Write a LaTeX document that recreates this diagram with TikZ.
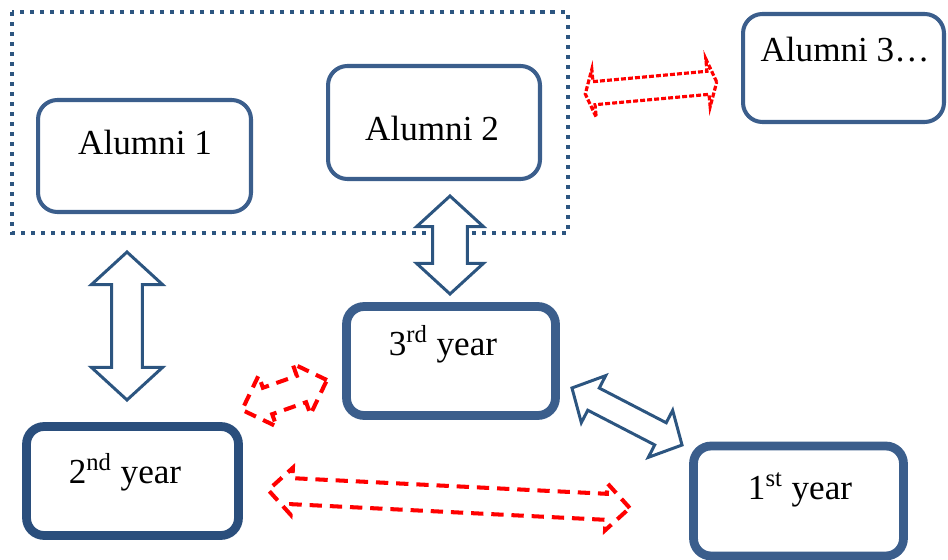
\documentclass[tikz,border=0pt]{standalone}
\usepackage{fontspec}
\setmainfont{Liberation Serif}
\usetikzlibrary{shapes.arrows}

\definecolor{boxblue}{HTML}{3B5E8C}
\definecolor{darkblue}{HTML}{2A4E7C}
\definecolor{arrowblue}{HTML}{2C5580}

\tikzset{
  alumbox/.style={draw=boxblue, line width=2.3pt, rounded corners=11pt},
  yearbox/.style={draw=boxblue, line width=5pt, rounded corners=10pt},
  txt/.style={font=\fontsize{20}{24}\selectfont, inner sep=0pt},
  bluearrow/.style={double arrow, draw=arrowblue, line width=1.7pt, fill=white,
    inner xsep=0pt, double arrow tip angle=95},
  redarrow/.style={double arrow, draw=red, line width=2.3pt, dash pattern=on 7pt off 4.5pt,
    inner xsep=0pt, double arrow tip angle=90}
}

\begin{document}
\begin{tikzpicture}[x=0.02cm,y=-0.02cm]
  \useasboundingbox (0,0) rectangle (948,560);

  % alumni group
  \draw[arrowblue, line width=2.3pt, dash pattern=on 2.3pt off 3.4pt] (12,12) rectangle (568,233);

  \begin{scope}[every node/.style={alumbox}]
    \node[minimum width=4.26cm, minimum height=2.24cm] (alum1) at (144.5,156) {};
    \node[minimum width=4.24cm, minimum height=2.26cm] (alum2) at (434,122.5) {};
    \node[minimum width=4.02cm, minimum height=2.16cm] (alum3) at (843.5,68) {};
  \end{scope}

  \node[yearbox, minimum width=4.18cm, minimum height=2.18cm] (third) at (451,361) {};
  \node[yearbox, draw=darkblue, minimum width=4.24cm, minimum height=2.18cm] (second) at (132.5,481) {};
  \node[yearbox, minimum width=4.2cm, minimum height=2.2cm] (first) at (798.5,501) {};

  % texts
  \node[txt] (alum1txt) at (145,142) {Alumni 1};
  \node[txt] (alum2txt) at (432,128) {Alumni 2};
  \node[txt] (alum3txt) at (845,50) {Alumni 3…};
  \node[txt] (thirdtxt) at (443,344) {3\textsuperscript{rd} year};
  \node[txt] (secondtxt) at (125,472) {2\textsuperscript{nd} year};
  \node[txt] (firsttxt) at (800,490) {1\textsuperscript{st} year};

  % block arrows
  \node[bluearrow, rotate=90, minimum height=2.96cm, inner ysep=0.28cm,
    double arrow head extend=0.4cm] (a1two) at (127,326) {};
  \node[bluearrow, rotate=90, minimum height=1.96cm, inner ysep=0.32cm,
    double arrow head extend=0.32cm] (a2three) at (450,245) {};
  \node[bluearrow, rotate=-27.4, minimum height=2.48cm, inner ysep=0.22cm,
    double arrow head extend=0.28cm] (threeone) at (627,416.5) {};

  \node[redarrow, line width=1.8pt, dash pattern=on 2.8pt off 1.2pt, double arrow tip angle=140,
    rotate=5.2, minimum height=2.64cm, inner ysep=0.2cm,
    double arrow head extend=0.25cm] (a2a3) at (651,88) {};
  \node[redarrow, rotate=19.4, minimum height=1.8cm, inner ysep=0.24cm,
    double arrow head extend=0.26cm] (twothree) at (284.5,395) {};
  \node[redarrow, rotate=-2.85, minimum height=7.24cm, inner ysep=0.22cm,
    double arrow head extend=0.21cm] (twoone) at (449,499) {};

\end{tikzpicture}
\end{document}
